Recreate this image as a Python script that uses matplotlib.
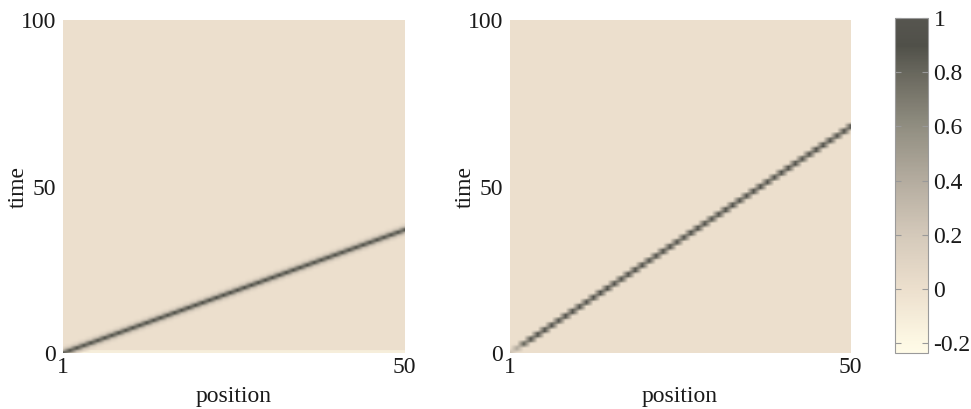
import numpy as np
import matplotlib
matplotlib.use("Agg")
import matplotlib.pyplot as plt
from matplotlib.colors import LinearSegmentedColormap, Normalize

# ---- data ----
positions = np.arange(1, 51)
left_times = np.arange(0, 100.25, 0.25)
right_times = np.arange(0, 100.5, 0.5)
left_end_time = 37.0      # pulse time at position 50 (left)
right_end_time = 68.0     # pulse time at position 50 (right)
left_offsets = [-2.2, -1.3, -0.75, -0.4, 0.0, 0.4, 0.75, 1.3, 2.2]
left_profile = [0.0, 0.14, 0.4, 0.78, 0.98, 0.78, 0.4, 0.14, 0.0]
right_offsets = [-1.25, -0.6, 0.0, 0.6, 1.25]
right_profile = [0.0, 0.82, 1.12, 0.82, 0.0]
right_start_amplitude = [0.25, 0.4, 0.8]
left_initial_value = -0.12

cbar_ticks = [-0.2, 0, 0.2, 0.4, 0.6, 0.8, 1]
cbar_labels = ["-0.2", "0", "0.2", "0.4", "0.6", "0.8", "1"]
vmin, vmax = -0.235, 1.0

# colormap stops (value, rgb)
cmap_values = [-0.235, -0.2, 0.0, 0.2, 0.4, 0.6, 0.8, 0.9, 1.0]
cmap_colors = [(255, 251, 232), (253, 248, 228), (236, 223, 205), (212, 201, 186),
               (180, 172, 159), (145, 142, 129), (104, 103, 93), (80, 80, 73), (86, 85, 79)]

# ---- build fields ----
def build(times, end_time, offsets, profile):
    arrival = (positions - 1) / (positions[-1] - 1) * end_time
    field = np.zeros((len(times), len(positions)))
    for j, ta in enumerate(arrival):
        field[:, j] = np.interp(times - ta, offsets, profile, left=0.0, right=0.0)
    return field

left_field = build(left_times, left_end_time, left_offsets, left_profile)
base = left_field[:4, 2:]
left_field[:4, 2:] = np.where(base < 0.05, left_initial_value, base)
right_field = build(right_times, right_end_time, right_offsets, right_profile)
for j, a in enumerate(right_start_amplitude):
    right_field[:, j] *= a

norm_vals = [(v - vmin) / (vmax - vmin) for v in cmap_values]
cmap = LinearSegmentedColormap.from_list(
    "wave", list(zip(norm_vals, [tuple(c / 255 for c in col) for col in cmap_colors])))
norm = Normalize(vmin=vmin, vmax=vmax)

plt.rcParams['font.family'] = ['Liberation Serif', 'DejaVu Serif']
plt.rcParams['font.size'] = 17
txt = '#1a1a1a'

fig = plt.figure(figsize=(9.71, 4.09), dpi=100)
ax1 = fig.add_axes([0.0649, 0.137, 0.3512, 0.814])
ax2 = fig.add_axes([0.5252, 0.137, 0.3502, 0.814])
cax = fig.add_axes([0.9217, 0.137, 0.034, 0.819])

for ax, field, times in ((ax1, left_field, left_times), (ax2, right_field, right_times)):
    dt = times[1] - times[0]
    im = ax.imshow(field, origin='lower', aspect='auto', cmap=cmap, norm=norm,
                   interpolation='bilinear',
                   extent=[positions[0] - 0.5, positions[-1] + 0.5,
                           times[0] - dt / 2, times[-1] + dt / 2])
    ax.set_xlim(1, 50)
    ax.set_ylim(0, 100)
    for s in ax.spines.values():
        s.set_visible(False)
    ax.set_xticks([1, 50])
    ax.set_xticklabels(["1", "50"])
    ax.set_yticks([0, 50, 100])
    ax.set_yticklabels(["0", "50", "100"])
    ax.tick_params(length=0, labelcolor=txt, labelsize=17)
    ax.tick_params(axis='y', pad=5)
    ax.tick_params(axis='x', pad=3)
    ax.set_xlabel("position", color=txt, labelpad=6)
    ax.set_ylabel("time", color=txt, va='center')
    ax.yaxis.set_label_coords(-0.132, 0.5)

cb = fig.colorbar(im, cax=cax)
cb.set_ticks(cbar_ticks)
cb.set_ticklabels(cbar_labels)
cb.outline.set_edgecolor('#9a9a9a')
cb.outline.set_linewidth(0.8)
cax.tick_params(direction='in', left=True, right=True, length=4, width=0.8,
                color='#999999', labelcolor=txt, labelsize=17, pad=4)

fig.savefig("out.png", dpi=100)
